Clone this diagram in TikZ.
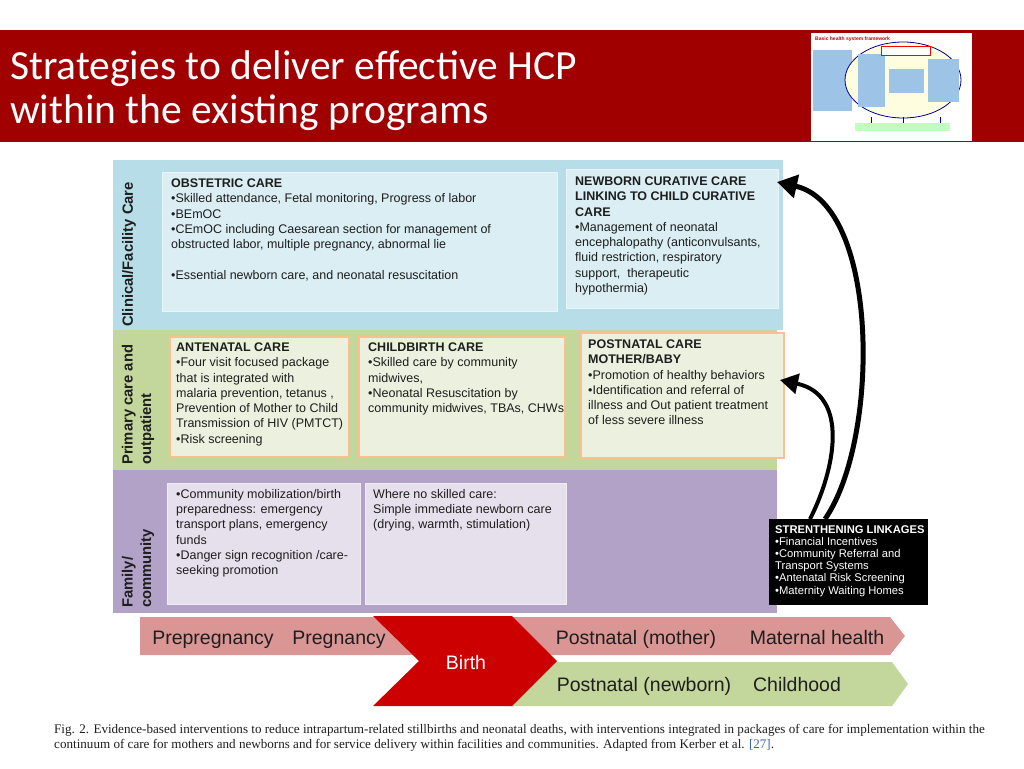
\documentclass[tikz,border=0pt]{standalone}
\usepackage{fontspec}
\setmainfont{Liberation Sans}
\newfontfamily\titulo{Carlito}
\newfontfamily\pie{Liberation Serif}
\usetikzlibrary{arrows.meta,positioning,calc}
\definecolor{crojo}{HTML}{A00000}
\definecolor{cazul}{HTML}{B7DDE8}
\definecolor{cazulc}{HTML}{DAEEF3}
\definecolor{cverde}{HTML}{C3D69B}
\definecolor{cverdec}{HTML}{EBF1DE}
\definecolor{cnaranja}{HTML}{FAC090}
\definecolor{cmorado}{HTML}{B3A2C7}
\definecolor{cmoradoc}{HTML}{E6E0EC}
\definecolor{crosa}{HTML}{D99694}
\definecolor{cnacer}{HTML}{CC0000}
\definecolor{ctexto}{HTML}{1E1E1E}
\definecolor{cref}{HTML}{3A62B8}
\definecolor{cmini}{HTML}{9DC3E6}
\tikzset{
  caja/.style={anchor=north west,inner sep=0pt,outer sep=0pt},
  cajaz/.style={caja,fill=cazulc,draw=cazulc!60!white,line width=0.8pt},
  cajav/.style={caja,fill=cverdec,draw=cnaranja,line width=1.6pt},
  cajam/.style={caja,fill=cmoradoc,draw=cmoradoc!60!white,line width=0.8pt},
  texto/.style={anchor=north west,align=left,inner sep=0pt,text=ctexto,
                font=\fontsize{12.5}{15.3}\selectfont},
  etfila/.style={rotate=90,anchor=west,align=left,inner sep=0pt,text=ctexto,
                 font=\fontsize{14.8}{18.5}\selectfont\bfseries},
  etiempo/.style={anchor=base,inner sep=0pt,text=ctexto,
                  font=\fontsize{19.5}{22}\selectfont},
  flecha/.style={-{Triangle[length=20pt,width=23pt]},draw=black,line width=5pt},
  flechac/.style={flecha,-{Triangle[length=18pt,width=20pt]},line width=4pt},
}

\begin{document}
\begin{tikzpicture}[x=1pt,y=-1pt]
\useasboundingbox (0,0) rectangle (1024,768);
\fill[white] (0,0) rectangle (1024,768);

% ---------------- cabecera ----------------
\fill[crojo] (0,30) rectangle (1024,142);
\node[anchor=north west,align=left,inner sep=0pt,text=white,
      font=\titulo\fontsize{41.5}{44}\selectfont] (tit) at (10,50)
  {Strategies to deliver effective HCP\\within the existing programs};

% miniatura del marco del sistema de salud
\fill[white] (811,33) rectangle (972,141);
\node[anchor=west,inner sep=0pt,text=red!75!black,
      font=\fontsize{5}{6}\selectfont\bfseries] (mini) at (815,39)
  {Basic health system framework};
\fill[cmini] (813,50) rectangle (852,111);
\draw[blue!60!black,line width=0.8pt,fill=yellow!12] (903,80) ellipse [x radius=58,y radius=38];
\fill[cmini] (858,54) rectangle (885,107);
\fill[cmini] (889,69) rectangle (924,93);
\fill[cmini] (928,59) rectangle (959,102);
\draw[red,line width=0.8pt,fill=white] (881,46) rectangle (930,55);
\foreach \xm in {871,903,940}
  \draw[blue!70!black,line width=1pt] (\xm,117) -- (\xm,123);
\fill[green!25] (855,123) rectangle (950,131);

% ---------------- franjas de nivel ----------------
\fill[cazul]   (113,160) rectangle (783,330);
\fill[cverde]  (113,330) rectangle (777,470);
\fill[cmorado] (113,470) rectangle (777,613);

\node[etfila] (lclin) at (129,327) {Clinical/Facility Care};
\node[etfila] (lprim) at (138,465) {Primary care and\\outpatient};
\node[etfila] (lfam)  at (138,608) {Family/\\community};

% ---------------- cajas ----------------
\node[cajaz,minimum width=395pt,minimum height=139pt] (obs) at (162,172) {};
\node[cajaz,minimum width=212pt,minimum height=139pt] (nbc) at (566,169) {};
\node[cajav,minimum width=179pt,minimum height=120pt] (anc) at (170,337) {};
\node[cajav,minimum width=206pt,minimum height=120pt] (cbc) at (359,337) {};
\node[cajav,minimum width=203pt,minimum height=125pt] (pnc) at (581,333) {};
\node[cajam,minimum width=193pt,minimum height=121pt] (com) at (167,483) {};
\node[cajam,minimum width=201pt,minimum height=121pt] (rn)  at (365,483) {};

\node[texto] (tobs) at (171,178.5)
  {\textbf{OBSTETRIC CARE}\\
   •Skilled attendance, Fetal monitoring, Progress of labor\\
   •BEmOC\\
   •CEmOC including Caesarean section for management of\\
   obstructed labor, multiple pregnancy, abnormal lie\\[15.3pt]
   •Essential newborn care, and neonatal resuscitation};
\node[texto] (tnbc) at (575,176.5)
  {\textbf{NEWBORN CURATIVE CARE}\\
   \textbf{LINKING TO CHILD CURATIVE}\\
   \textbf{CARE}\\
   •Management of neonatal\\
   encephalopathy (anticonvulsants,\\
   fluid restriction, respiratory\\
   support,\ \ therapeutic\\
   hypothermia)};
\node[texto] (tanc) at (176,342.5)
  {\textbf{ANTENATAL CARE}\\
   •Four visit focused package\\
   that is integrated with\\
   malaria prevention, tetanus ,\\
   Prevention of Mother to Child\\
   Transmission of HIV (PMTCT)\\
   •Risk screening};
\node[texto] (tcbc) at (368,342.5)
  {\textbf{CHILDBIRTH CARE}\\
   •Skilled care by community\\
   midwives,\\
   •Neonatal Resuscitation by\\
   community midwives, TBAs, CHWs};
\node[texto] (tpnc) at (588,339.5)
  {\textbf{POSTNATAL CARE}\\
   \textbf{MOTHER/BABY}\\
   •Promotion of healthy behaviors\\
   •Identification and referral of\\
   illness and Out patient treatment\\
   of less severe illness};
\node[texto] (tcom) at (176,489)
  {•Community mobilization/birth\\
   preparedness: emergency\\
   transport plans, emergency\\
   funds\\
   •Danger sign recognition /care-\\
   seeking promotion};
\node[texto] (trn) at (373,489)
  {Where no skilled care:\\
   Simple immediate newborn care\\
   (drying, warmth, stimulation)};

% ---------------- vinculos ----------------
\node[caja,fill=black,minimum width=159pt,minimum height=86pt] (enlace) at (769,519) {};
\node[texto,text=white,font=\fontsize{11.2}{12.2}\selectfont] (tenlace) at (775,525)
  {\textbf{STRENTHENING LINKAGES}\\
   •Financial Incentives\\
   •Community Referral and\\
   Transport Systems\\
   •Antenatal Risk Screening\\
   •Maternity Waiting Homes};

\coordinate (p1) at ($(enlace.north west)+(56,0)$);
\coordinate (p2) at ($(enlace.north west)+(41,0)$);
\draw[flecha]  (p1) .. controls (880,440) and (880,205) .. ($(nbc.north east)+(-1,13)$);
\draw[flechac] (p2) .. controls (835,470) and (850,395) .. ($(pnc.north east)+(-4,47)$);

% ---------------- linea de tiempo ----------------
\fill[crosa]  (140,617) -- (890,617) -- (905,636) -- (890,655) -- (140,655) -- cycle;
\fill[cverde] (505,662) -- (892,662) -- (908,684) -- (892,706) -- (505,706) -- cycle;
\fill[cnacer] (373,616) -- (512,616) -- (557,661) -- (512,706) -- (373,706) -- (419,661) -- cycle;

\node[etiempo] (pre)   at (213,644) {Prepregnancy};
\node[etiempo] (emb)   at (339,644) {Pregnancy};
\node[etiempo] (pmad)  at (636,644) {Postnatal (mother)};
\node[etiempo] (smat)  at (817,644) {Maternal health};
\node[etiempo,text=white] (nac) at (466,669) {Birth};
\node[etiempo] (prn)   at (644,691) {Postnatal (newborn)};
\node[etiempo] (ninez) at (797,691) {Childhood};

% ---------------- pie ----------------
\node[anchor=north west,align=left,inner sep=0pt,text=ctexto,
      font=\pie\fontsize{13.1}{15}\selectfont] (pie) at (54,724)
  {Fig. 2. Evidence-based interventions to reduce intrapartum-related stillbirths and neonatal deaths, with interventions integrated in packages of care for implementation within the\\
   continuum of care for mothers and newborns and for service delivery within facilities and communities. Adapted from Kerber et al. \textcolor{cref}{[27]}.};

\end{tikzpicture}
\end{document}
